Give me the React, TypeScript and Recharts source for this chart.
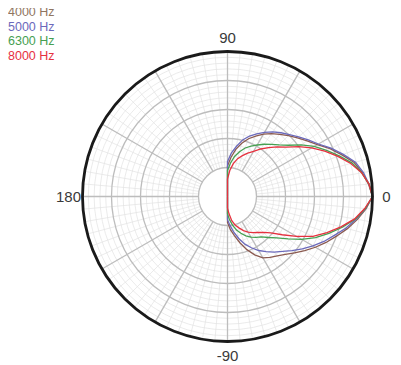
import React from 'react';
import { RadarChart, Radar, PolarGrid, PolarAngleAxis, PolarRadiusAxis } from 'recharts';

// polar angle in degrees (0 = right, counter-clockwise positive); 180 = rear (below floor)
const angles = [-90, -85, -80, -75, -70, -65, -60, -55, -50, -45, -40, -35, -30, -25, -20, -15, -10, -5, 0,
  5, 10, 15, 20, 25, 30, 35, 40, 45, 50, 55, 60, 65, 70, 75, 80, 85, 90, 180];

// level in dB, same order as angles
const hz4000 = [-41, -38.5, -36.3, -33.5, -30.5, -27.8, -25.6, -24.4, -23.3, -21.8, -19.8, -17.5, -15, -12.5, -10, -7.2, -4.5, -2, 0,
  -1.2, -2.8, -4.8, -8, -11, -14.2, -16.5, -18.5, -20.3, -22, -23.5, -25.2, -27, -28.8, -31, -33.5, -36.5, -39.5, -50];
const hz5000 = [-42, -40, -37.5, -35, -32.5, -30.5, -28.5, -26.8, -25, -23.2, -21, -18.5, -16, -13.3, -10.8, -7.8, -5, -2.2, 0,
  -1, -2.4, -4.3, -7.5, -10.6, -13.8, -16, -18, -19.8, -21.3, -22.8, -24.5, -26.2, -27.8, -29.8, -32.5, -35, -38, -50];
const hz6300 = [-44, -42, -40, -38, -36.5, -35, -33.8, -32.8, -31.8, -30, -27.8, -24.5, -20.5, -16.5, -12.8, -9, -5.2, -2.3, 0,
  -1, -3, -5.5, -9, -12.3, -15.5, -19, -22.5, -24.8, -26.5, -28, -29.5, -30.8, -32.2, -34, -36, -38.5, -41, -50];
const hz8000 = [-46, -44, -41.5, -39.8, -38.5, -37, -35.8, -34.8, -33.8, -32.5, -30.5, -27, -22.5, -17.5, -13.5, -9.5, -5.5, -2.5, 0,
  -1, -3, -6, -9.5, -13, -16.5, -20, -23.5, -25.8, -28, -30, -32, -33.5, -35, -36.5, -38.5, -41, -44, -50];

const seriesKeys = ['hz4000', 'hz5000', 'hz6300', 'hz8000'];
const seriesNames = ['4000 Hz', '5000 Hz', '6300 Hz', '8000 Hz'];
const seriesColors = ['#8b5a50', '#6b69bb', '#46a052', '#e6313f'];
const legendColors = ['#8f7560', '#6b69bb', '#46a052', '#e6313f'];

const angleTicks = [-90, 0, 90, 180];
const angleTickLabels = ['-90', '0', '90', '180'];
const radiusDomain = [-40, 0];
const majorRingLevels = [-40, -30, -20, -10];
const minorRingLevels = [-38, -36, -34, -32, -28, -26, -24, -22, -18, -16, -14, -12, -8, -6, -4, -2];
const majorSpokes = [0, 30, 60, 90, 120, 150, 180, 210, 240, 270, 300, 330];
const minorSpokes: number[] = [];
for (let a = 0; a < 360; a += 5) if (a % 30 !== 0) minorSpokes.push(a);

const data = angles.map((a, i) => ({
  angle: a,
  hz4000: hz4000[i],
  hz5000: hz5000[i],
  hz6300: hz6300[i],
  hz8000: hz8000[i],
}));

const W = 393;
const H = 357;
const CX = 219.5;
const CY = 188.5;
const OUTER = 145;
const INNER = 29;
const FONT = '"Liberation Sans", Arial, sans-serif';

const ringPx = (db: number) => INNER + ((db - radiusDomain[0]) / (radiusDomain[1] - radiusDomain[0])) * (OUTER - INNER);

const AngleTick = (props: any) => {
  const { x, y, payload } = props;
  const dx = x - CX;
  const dy = y - CY;
  const d = Math.hypot(dx, dy) || 1;
  const L = OUTER + 14;
  const tx = CX + (dx / d) * L;
  const ty = CY + (dy / d) * L;
  const idx = angleTicks.indexOf(payload.value);
  return (
    <text x={tx} y={ty} textAnchor="middle" dominantBaseline="central" fontSize={15} fill="#3a3a3a" fontFamily={FONT}>
      {idx >= 0 ? angleTickLabels[idx] : payload.value}
    </text>
  );
};

export default function App() {
  return (
    <div style={{ position: 'relative', width: W, height: H }}>
      <RadarChart
        width={W}
        height={H}
        data={data}
        cx={CX}
        cy={CY}
        innerRadius={INNER}
        outerRadius={OUTER}
        startAngle={-180}
        endAngle={180}
        margin={{ top: 0, right: 0, bottom: 0, left: 0 }}
      >
        <PolarGrid
          gridType="circle"
          polarRadius={minorRingLevels.map(ringPx)}
          polarAngles={minorSpokes}
          stroke="#e3e3e3"
          strokeWidth={0.7}
        />
        <PolarGrid
          gridType="circle"
          polarRadius={majorRingLevels.map(ringPx)}
          polarAngles={majorSpokes}
          stroke="#bdbdbd"
          strokeWidth={1.3}
        />
        <PolarAngleAxis
          dataKey="angle"
          type="number"
          domain={[-180, 180]}
          ticks={angleTicks as any}
          tick={<AngleTick />}
          tickLine={false}
          axisLineType="circle"
          axisLine={{ stroke: '#1a1a1a', strokeWidth: 2.8 }}
        />
        <PolarRadiusAxis
          type="number"
          domain={radiusDomain as any}
          allowDataOverflow
          tick={false}
          axisLine={false}
        />
        {seriesKeys.map((k, i) => (
          <Radar
            key={k}
            dataKey={k}
            name={seriesNames[i]}
            stroke={seriesColors[i]}
            strokeWidth={1.3}
            fill="none"
            fillOpacity={0}
            dot={false}
            isAnimationActive={false}
          />
        ))}
      </RadarChart>
      <div style={{ position: 'absolute', left: 0, top: -3, fontFamily: FONT, fontSize: 12.5, lineHeight: '14.5px' }}>
        {seriesNames.map((n, i) => (
          <div key={n} style={{ color: legendColors[i] }}>{n}</div>
        ))}
      </div>
    </div>
  );
}
